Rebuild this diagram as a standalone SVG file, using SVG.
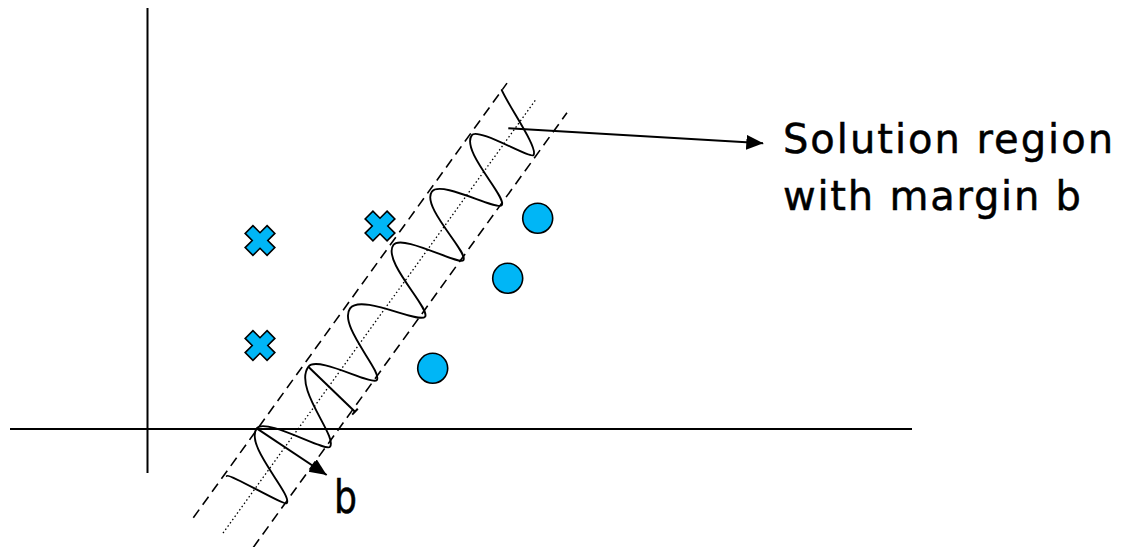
<svg xmlns="http://www.w3.org/2000/svg" xmlns:xlink="http://www.w3.org/1999/xlink" width="1124" height="547" viewBox="0 0 1124 547">
  <style>
    .axis { stroke: #000; stroke-width: 2; fill: none; }
    .dash { stroke: #000; stroke-width: 1.6; stroke-dasharray: 10 6; fill: none; }
    .dot { stroke: #000; stroke-width: 1.3; stroke-dasharray: 1.5 2.5; fill: none; }
    .wave { stroke: #000; stroke-width: 1.9; fill: none; stroke-linejoin: round; stroke-linecap: round; }
    .line { stroke: #000; stroke-width: 2; fill: none; }
    .mark { fill: #00B6F6; stroke: #000; stroke-width: 1.6; }
    .label { font-family: "DejaVu Sans", "Liberation Sans", sans-serif; font-size: 40px; fill: #000; stroke: #000; stroke-width: 0.5; }
  </style>
  <defs>
    <marker id="arrow" markerUnits="userSpaceOnUse" markerWidth="18" markerHeight="16" refX="17" refY="7.5" orient="auto">
      <path d="M0,0 L17,7.5 L0,15 Z" fill="#000"/>
    </marker>
    <path id="cross" d="M -5.5,-15.5 H 5.5 V -5.5 H 15.5 V 5.5 H 5.5 V 15.5 H -5.5 V 5.5 H -15.5 V -5.5 H -5.5 Z" transform="rotate(45)"/>
  </defs>

  <g id="axes">
    <line class="axis" x1="147.5" y1="8" x2="147.5" y2="473"/>
    <line class="axis" x1="10" y1="429" x2="912" y2="429"/>
  </g>

  <g id="solution-region" transform="translate(223,533) rotate(-54.18)">
    <line class="dash" x1="-5" y1="-33" x2="531" y2="-33"/>
    <line class="dot" x1="0" y1="0" x2="536" y2="0"/>
    <line class="dash" x1="6" y1="33" x2="542" y2="33"/>
    <path class="wave" d="M 48.4,-30.3 C 52,-30.3 58,34.3 61.4,34.3 C 72.2,34.3 83,-33.9 104.6,-33.9 C 118.6,-33.9 125.6,36.3 132.6,36.3 C 145.6,36.3 158.7,-28.1 184.8,-28.1 C 199.4,-28.1 206.7,35.2 214,35.2 C 224.6,35.2 235.3,-28.4 256.5,-28.4 C 275,-28.4 284.3,37.3 293.6,37.3 C 303.5,37.3 313.4,-30.4 333.2,-30.4 C 347.6,-30.4 354.8,35.2 362,35.2 C 371.2,35.2 380.5,-30.4 398.9,-30.4 C 414,-30.4 421.5,34.1 429,34.1 C 438.8,34.1 448.7,-31.1 468.3,-31.1 C 478.2,-31.1 483.1,30.6 488.1,30.6 C 496.6,30.6 512,-15 522.3,-33.2"/>
  </g>

  <g id="crosses">
    <g id="cross1"><use xlink:href="#cross" href="#cross" class="mark" transform="translate(260,240.5)"/></g>
    <g id="cross2"><use xlink:href="#cross" href="#cross" class="mark" transform="translate(380,226)"/></g>
    <g id="cross3"><use xlink:href="#cross" href="#cross" class="mark" transform="translate(260,345.5)"/></g>
  </g>

  <g id="circles">
    <g id="circle1"><circle class="mark" cx="537.7" cy="218.3" r="15"/></g>
    <g id="circle2"><circle class="mark" cx="507.7" cy="278.3" r="15"/></g>
    <g id="circle3"><circle class="mark" cx="432.7" cy="368.3" r="15"/></g>
  </g>

  <g id="connectors">
    <line class="line" x1="508.3" y1="128.3" x2="763.3" y2="143.3" marker-end="url(#arrow)"/>
    <line class="line" x1="256.7" y1="428.3" x2="326.7" y2="475" marker-end="url(#arrow)"/>
    <line class="line" x1="308.3" y1="366.7" x2="355" y2="411.7"/>
    <line class="line" x1="352.2" y1="414.6" x2="357.8" y2="408.8"/>
  </g>

  <g id="label-solution">
    <text class="label" x="783" y="153" textLength="330" lengthAdjust="spacing">Solution region</text>
    <text class="label" x="783" y="210" textLength="298" lengthAdjust="spacing">with margin b</text>
  </g>
  <g id="label-b">
    <text class="label" x="334" y="513" style="font-size:46px" textLength="23" lengthAdjust="spacingAndGlyphs">b</text>
  </g>
</svg>
